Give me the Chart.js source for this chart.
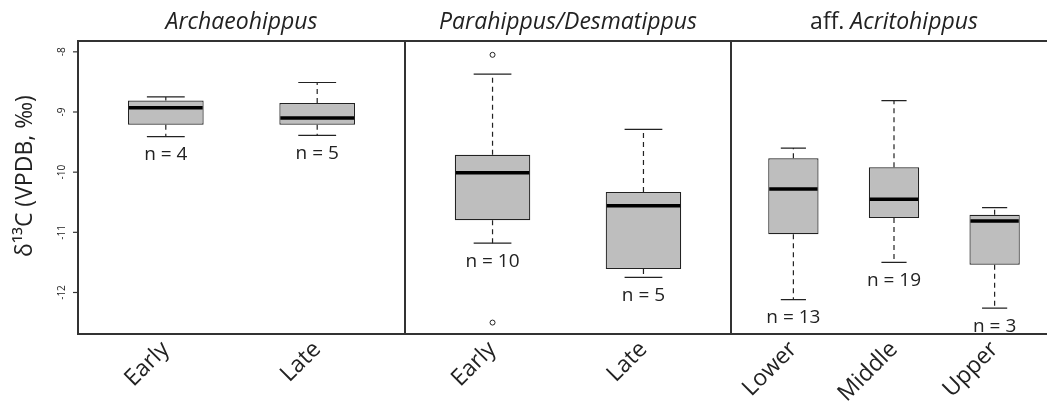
<!DOCTYPE html>
<html>
<head>
<meta charset="utf-8">
<script src="https://cdn.jsdelivr.net/npm/chart.js@4/dist/chart.umd.min.js"></script>
<style>
  html, body { margin: 0; padding: 0; background: #fff; overflow: hidden; }
  #wrap { position: relative; width: 1047px; height: 402px; }
  canvas { position: absolute; top: 0; }
</style>
</head>
<body>
<div id="wrap">
  <canvas id="p0" width="405" height="402" style="left:0px"></canvas>
  <canvas id="p1" width="326" height="402" style="left:405px"></canvas>
  <canvas id="p2" width="326" height="402" style="left:731px"></canvas>
</div>
<script>
// groups per panel
const titlePrefix = ['', '', 'aff. '];
const titleGenus = ['Archaeohippus', 'Parahippus/Desmatippus', 'Acritohippus'];
const categories = [['Early', 'Late'], ['Early', 'Late'], ['Lower', 'Middle', 'Upper']];

// box statistics (δ13C, ‰ VPDB)
const whiskerLow  = [[-9.41, -9.39], [-11.18, -11.75], [-12.12, -11.50, -12.26]];
const q1          = [[-9.21, -9.21], [-10.80, -11.61], [-11.03, -10.76, -11.54]];
const median      = [[-8.93, -9.10], [-10.01, -10.56], [-10.28, -10.45, -10.81]];
const q3          = [[-8.81, -8.85], [-9.71, -10.33], [-9.77, -9.92, -10.71]];
const whiskerHigh = [[-8.75, -8.51], [-8.37, -9.29], [-9.60, -8.81, -10.59]];
const outliers    = [[[], []], [[-8.05, -12.50], []], [[], [], []]];
const counts      = [[4, 5], [10, 5], [13, 19, 3]];

const yTicks = [-8, -9, -10, -11, -12];
const yMin = -12.69, yMax = -7.82;

const FONT = "'Open Sans', 'Noto Sans', sans-serif";
const INK = '#222';

const boxParts = {
  id: 'boxParts',
  beforeDatasetsDraw(chart, args, opts) {
    const {ctx, scales: {x, y}} = chart;
    const p = opts.panel;
    ctx.save();
    ctx.strokeStyle = INK;
    ctx.lineWidth = 1.2;
    categories[p].forEach((c, i) => {
      const cx = x.getPixelForValue(i + 1);
      const capHalf = x.getPixelForValue(i + 1.125) - cx;
      ctx.setLineDash([5, 4]);
      ctx.beginPath();
      ctx.moveTo(cx, y.getPixelForValue(q3[p][i]));
      ctx.lineTo(cx, y.getPixelForValue(whiskerHigh[p][i]));
      ctx.moveTo(cx, y.getPixelForValue(q1[p][i]));
      ctx.lineTo(cx, y.getPixelForValue(whiskerLow[p][i]));
      ctx.stroke();
      ctx.setLineDash([]);
      ctx.beginPath();
      [whiskerHigh[p][i], whiskerLow[p][i]].forEach(v => {
        const py = y.getPixelForValue(v);
        ctx.moveTo(cx - capHalf, py);
        ctx.lineTo(cx + capHalf, py);
      });
      ctx.stroke();
    });
    ctx.restore();
  },
  afterDatasetsDraw(chart, args, opts) {
    const {ctx, scales: {x, y}} = chart;
    const p = opts.panel;
    ctx.save();
    categories[p].forEach((c, i) => {
      const cx = x.getPixelForValue(i + 1);
      const half = x.getPixelForValue(i + 1.25) - cx;
      const my = y.getPixelForValue(median[p][i]);
      ctx.strokeStyle = '#000';
      ctx.lineWidth = 3.5;
      ctx.beginPath();
      ctx.moveTo(cx - half + 1, my);
      ctx.lineTo(cx + half - 1, my);
      ctx.stroke();
      ctx.fillStyle = INK;
      ctx.font = '19px ' + FONT;
      ctx.textAlign = 'center';
      ctx.textBaseline = 'middle';
      ctx.fillText('n = ' + counts[p][i], cx, y.getPixelForValue(whiskerLow[p][i]) + 18);
    });
    ctx.restore();
  },
  afterDraw(chart, args, opts) {
    const {ctx, chartArea: a, scales: {y}} = chart;
    const p = opts.panel;
    ctx.save();
    // frame
    ctx.strokeStyle = '#333';
    ctx.lineWidth = 2;
    ctx.strokeRect(a.left, a.top, a.right - a.left, a.bottom - a.top);
    // title
    const cx = (a.left + a.right) / 2;
    ctx.fillStyle = INK;
    ctx.textBaseline = 'middle';
    ctx.font = '23px ' + FONT;
    const w0 = ctx.measureText(titlePrefix[p]).width;
    ctx.font = 'italic 23px ' + FONT;
    const w1 = ctx.measureText(titleGenus[p]).width;
    let tx = cx - (w0 + w1) / 2;
    ctx.textAlign = 'left';
    ctx.font = '23px ' + FONT;
    ctx.fillText(titlePrefix[p], tx, 22);
    ctx.font = 'italic 23px ' + FONT;
    ctx.fillText(titleGenus[p], tx + w0, 22);
    // y axis on first panel
    if (p === 0) {
      ctx.lineWidth = 1.2;
      ctx.strokeStyle = '#333';
      ctx.font = '10px ' + FONT;
      ctx.textAlign = 'center';
      ctx.textBaseline = 'middle';
      yTicks.forEach(t => {
        const py = y.getPixelForValue(t);
        ctx.beginPath();
        ctx.moveTo(a.left - 5, py);
        ctx.lineTo(a.left, py);
        ctx.stroke();
        ctx.save();
        ctx.translate(62, py);
        ctx.rotate(-Math.PI / 2);
        ctx.fillText(String(t), 0, 0);
        ctx.restore();
      });
      ctx.save();
      ctx.translate(25, 176);
      ctx.rotate(-Math.PI / 2);
      ctx.font = '23px ' + FONT;
      ctx.fillText('\u03B4\u00B9\u00B3C (VPDB, \u2030)', 0, 0);
      ctx.restore();
    }
    ctx.restore();
  }
};

function makePanel(p) {
  const cats = categories[p];
  const n = cats.length;
  const boxes = cats.map((c, i) => ({x: i + 1, y: [q1[p][i], q3[p][i]]}));
  const outs = [];
  outliers[p].forEach((vals, i) => vals.forEach(v => outs.push({x: i + 1, y: v})));

  new Chart(document.getElementById('p' + p), {
    type: 'bar',
    data: {
      datasets: [{
        type: 'scatter',
        data: outs,
        pointRadius: 2.5,
        pointBackgroundColor: '#fff',
        pointBorderColor: INK,
        pointBorderWidth: 1,
        order: 0
      }, {
        data: boxes,
        backgroundColor: '#bebebe',
        borderColor: INK,
        borderWidth: 1.2,
        borderSkipped: false,
        categoryPercentage: 1,
        barPercentage: 0.5,
        order: 1
      }]
    },
    options: {
      responsive: false,
      animation: false,
      layout: { autoPadding: false, padding: { top: 41, left: 0, right: 0, bottom: 0 } },
      plugins: {
        legend: { display: false },
        tooltip: { enabled: false },
        boxParts: { panel: p }
      },
      scales: {
        x: {
          type: 'linear',
          offset: false,
          min: 0.5 - 0.04 * n,
          max: n + 0.5 + 0.04 * n,
          afterBuildTicks: s => { s.ticks = cats.map((c, i) => ({value: i + 1})); },
          afterFit: s => { s.height = 68; s.paddingLeft = 0; s.paddingRight = 0; },
          grid: { display: false, drawTicks: false },
          border: { display: false },
          ticks: {
            autoSkip: false,
            minRotation: 45,
            maxRotation: 45,
            padding: 2,
            color: INK,
            font: { family: FONT, size: 23 },
            callback: v => cats[v - 1]
          }
        },
        y: {
          display: p === 0,
          min: yMin,
          max: yMax,
          afterFit: s => { s.width = p === 0 ? 78 : 0; },
          grid: { display: false },
          border: { display: false },
          ticks: { display: false }
        }
      }
    },
    plugins: [boxParts]
  });
}

[0, 1, 2].forEach(makePanel);
</script>
</body>
</html>
